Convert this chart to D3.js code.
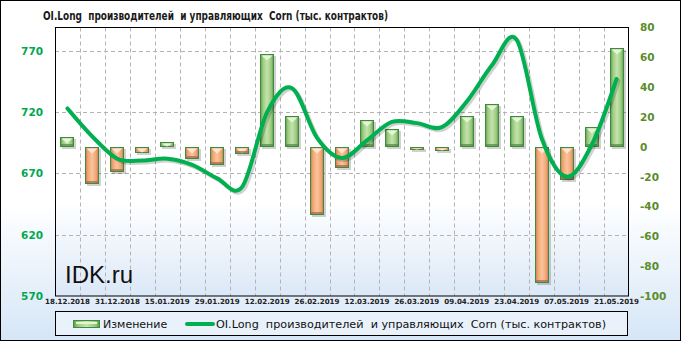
<!DOCTYPE html>
<html>
<head>
<meta charset="utf-8">
<script src="https://cdn.jsdelivr.net/npm/d3@7"></script>
<style>
html,body{margin:0;padding:0;background:#fff;}
svg{display:block;}
text{white-space:pre;}
</style>
</head>
<body>
<svg id="chart" width="681" height="341"></svg>
<script>
// ---- data ----
const dates = ["18.12.2018","24.12.2018","31.12.2018","08.01.2019","15.01.2019","22.01.2019","29.01.2019","05.02.2019","12.02.2019","19.02.2019","26.02.2019","05.03.2019","12.03.2019","19.03.2019","26.03.2019","02.04.2019","09.04.2019","16.04.2019","23.04.2019","30.04.2019","07.05.2019","14.05.2019","21.05.2019"];
const tickLabels = ["18.12.2018","31.12.2018","15.01.2019","29.01.2019","12.02.2019","26.02.2019","12.03.2019","26.03.2019","09.04.2019","23.04.2019","07.05.2019","21.05.2019"];
const change = [6.5,-25,-17,-4,3,-8,-12,-5,62,21,-46,-14,18,12,-2,-2.5,21,29,21,-91,-22,13,66];
const oiLong = [723,700,682,680.5,682,677,666,659,720,739.5,699,682.6,697,712,711,707.7,728.6,758,779,698.7,667.4,693,747];
const leftTicks = [570,620,670,720,770];
const rightTicks = [-100,-80,-60,-40,-20,0,20,40,60,80];
const title = "OI.Long  производителей  и управляющих  Corn (тыс. контрактов)";
const legendBar = "Изменение";
const legendLine = "OI.Long  производителей  и управляющих  Corn (тыс. контрактов)";

// ---- layout ----
const W = 681, H = 341;
const L = 55, R = 629, T = 27.5, B = 296;
const svg = d3.select("#chart");
const defs = svg.append("defs");

function vgrad(id, stops){
  const g = defs.append("linearGradient").attr("id", id).attr("x1",0).attr("y1",0).attr("x2",0).attr("y2",1);
  stops.forEach(s => g.append("stop").attr("offset", s[0]).attr("stop-color", s[1]));
}
function hgrad(id, stops){
  const g = defs.append("linearGradient").attr("id", id).attr("x1",0).attr("y1",0).attr("x2",1).attr("y2",0);
  stops.forEach(s => g.append("stop").attr("offset", s[0]).attr("stop-color", s[1]));
}
vgrad("bgOuter", [["0%","#ffffff"],["60%","#ffffff"],["100%","#d6e6f7"]]);
vgrad("bgPlot", [["0%","#ffffff"],["65%","#ffffff"],["100%","#dbe8f7"]]);
hgrad("gGreen", [["0%","#5f9a4c"],["18%","#9bcb80"],["50%","#c4e3ad"],["82%","#9bcb80"],["100%","#5f9a4c"]]);
hgrad("gOrange", [["0%","#c97a45"],["18%","#f0a576"],["50%","#fbc49b"],["82%","#f0a576"],["100%","#c97a45"]]);

// outer background
svg.append("rect").attr("x",0.5).attr("y",0.5).attr("width",W-1).attr("height",H-1)
  .attr("fill","url(#bgOuter)").attr("stroke","#000").attr("stroke-width",1);

// plot background
svg.append("rect").attr("x",L).attr("y",T).attr("width",R-L).attr("height",B-T)
  .attr("fill","url(#bgPlot)");

// scales
const x = d3.scaleBand().domain(dates).range([L,R]).padding(0);
const yL = d3.scaleLinear().domain([570,789]).range([B,T]);
const yR = d3.scaleLinear().domain([-100,80]).range([B,T]);
const bw = x.bandwidth();

// gridlines
const grid = svg.append("g").attr("stroke","#b4b4b4").attr("stroke-width",1).attr("stroke-dasharray","4,3");
leftTicks.filter(t => t>570).forEach(t => {
  grid.append("line").attr("x1",L).attr("x2",R).attr("y1",Math.round(yL(t))+0.5).attr("y2",Math.round(yL(t))+0.5);
});
dates.slice(1).forEach(d => {
  const xx = Math.round(x(d))+0.5;
  grid.append("line").attr("x1",xx).attr("x2",xx).attr("y1",T).attr("y2",B);
});

// bars
const barW = Math.round(bw*0.56);
const bars = svg.append("g");
dates.forEach((d,i) => {
  const v = change[i];
  const x0 = Math.round(x(d) + (bw-barW)/2);
  const y0 = Math.round(yR(Math.max(v,0)));
  const y1 = Math.round(yR(Math.min(v,0)));
  const h = Math.max(2, y1-y0);
  const pos = v >= 0;
  bars.append("rect").attr("x",x0+2).attr("y",y0+2).attr("width",barW).attr("height",h)
    .attr("fill","#000").attr("opacity",0.18);
  bars.append("rect").attr("x",x0+0.5).attr("y",y0+0.5).attr("width",barW-1).attr("height",h-1)
    .attr("fill", pos ? "url(#gGreen)" : "url(#gOrange)")
    .attr("stroke", "#3f8a3f").attr("stroke-width",1);
  const th = Math.min(5, h-2);
  if (th > 0){
    bars.append("path")
      .attr("d", `M${x0+1.5},${y0+1.5}L${x0+barW-1.5},${y0+1.5}L${x0+barW/2},${y0+1.5+th}Z`)
      .attr("fill", pos ? "#e4f5d6" : "#fde6d2");
  }
  if (h > 6){
    bars.append("rect").attr("x",x0+1).attr("y",y0+h-3).attr("width",barW-2).attr("height",2)
      .attr("fill", pos ? "#4f8a3c" : "#9c6a45").attr("opacity",0.7);
  }
});

// line
const line = d3.line().x((d,i) => x(dates[i]) + bw/2).y(d => yL(d)).curve(d3.curveCardinal.tension(0));
svg.append("path").datum(oiLong).attr("d", line).attr("fill","none")
  .attr("stroke","#000").attr("stroke-opacity",0.18).attr("stroke-width",4)
  .attr("transform","translate(2,2)").attr("stroke-linecap","round");
svg.append("path").datum(oiLong).attr("d", line).attr("fill","none")
  .attr("stroke","#00b050").attr("stroke-width",4).attr("stroke-linecap","round");

// plot border
svg.append("rect").attr("x",L+0.5).attr("y",T).attr("width",R-L-1).attr("height",B-T)
  .attr("fill","none").attr("stroke","#000").attr("stroke-width",1);

// left axis labels
const axL = d3.axisLeft(yL).tickValues(leftTicks).tickSize(0).tickPadding(0).tickFormat(d3.format("d"));
const gL = svg.append("g").attr("transform",`translate(43,0)`).call(axL);
gL.select(".domain").remove();
gL.selectAll("text").attr("fill","#00a84f").attr("font-family","DejaVu Sans").attr("font-weight","bold").attr("font-size","10.5px");

// right axis labels
const axR = d3.axisRight(yR).tickValues(rightTicks).tickSize(0).tickPadding(0).tickFormat(d => d < 0 ? "-" + Math.abs(d) : String(d));
const gR = svg.append("g").attr("transform",`translate(640,0)`).call(axR);
gR.select(".domain").remove();
gR.selectAll("text").attr("fill","#5b8c2a").attr("font-family","DejaVu Sans").attr("font-weight","bold").attr("font-size","10.5px");

// x axis labels
const axX = d3.axisBottom(x).tickValues(dates.filter(d => tickLabels.includes(d))).tickSize(0).tickPadding(0);
const gX = svg.append("g").attr("transform",`translate(0,${B+3})`).call(axX);
gX.select(".domain").remove();
gX.selectAll("text").attr("fill","#222").attr("font-family","DejaVu Sans").attr("font-weight","bold").attr("font-size","7.1px");

// title
svg.append("text").attr("x",43).attr("y",20).text(title)
  .attr("font-family","DejaVu Sans Condensed, DejaVu Sans").attr("font-weight","bold").attr("font-size","12.5px")
  .attr("fill","#1a1a1a").attr("textLength",345).attr("lengthAdjust","spacingAndGlyphs");

// watermark
svg.append("text").attr("x",65).attr("y",283).text("IDK.ru")
  .attr("font-family","Liberation Sans").attr("font-size","24px").attr("fill","#111");

// legend
const lg = svg.append("g");
lg.append("rect").attr("x",55.5).attr("y",311.5).attr("width",572).attr("height",24)
  .attr("fill","#e9f1fb").attr("stroke","#000").attr("stroke-width",1);
lg.append("rect").attr("x",73.5).attr("y",320.5).attr("width",26).attr("height",7)
  .attr("fill","url(#gGreen)").attr("stroke","#3f8a3f");
lg.append("rect").attr("x",76).attr("y",322).attr("width",21).attr("height",2).attr("fill","#e4f5d6");
lg.append("text").attr("x",103).attr("y",328).text(legendBar)
  .attr("font-family","DejaVu Sans").attr("font-size","11px").attr("fill","#111");
lg.append("line").attr("x1",187).attr("x2",213).attr("y1",324).attr("y2",324)
  .attr("stroke","#00b050").attr("stroke-width",4).attr("stroke-linecap","round");
lg.append("text").attr("x",216).attr("y",328).text(legendLine)
  .attr("font-family","DejaVu Sans").attr("font-size","11px").attr("fill","#111")
  .attr("textLength",390).attr("lengthAdjust","spacingAndGlyphs");
</script>
</body>
</html>
